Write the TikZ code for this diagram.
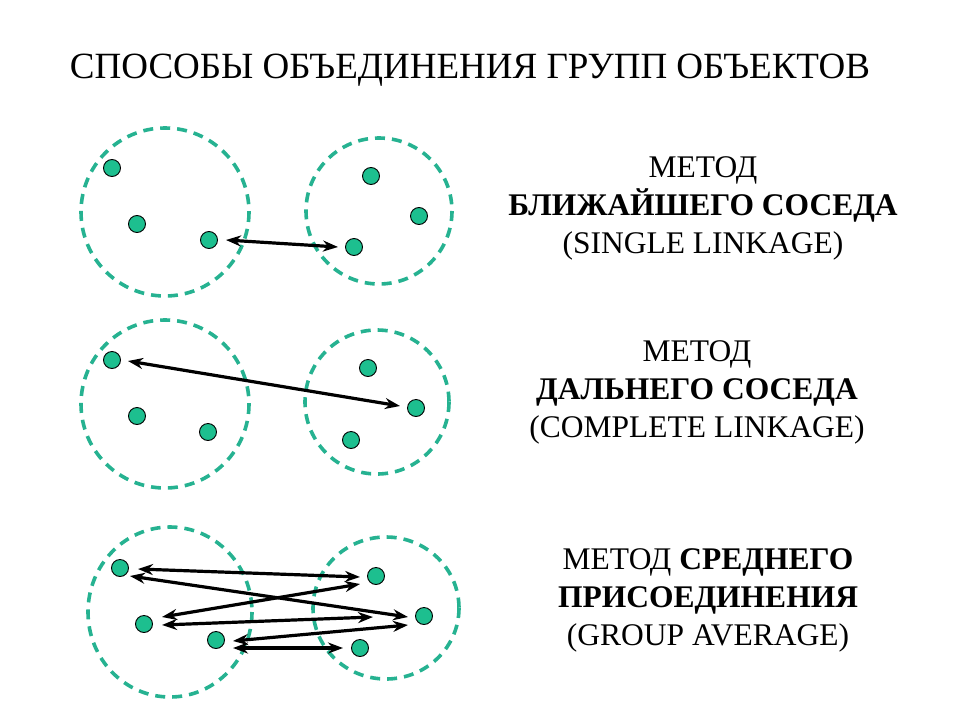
\documentclass[tikz,border=0pt]{standalone}
\usepackage{fontspec}
\setmainfont{Liberation Serif}
\usetikzlibrary{arrows.meta}
\begin{document}
\begin{tikzpicture}[x=1pt,y=-1pt,
  grp/.style={draw={rgb,255:red,38;green,178;blue,145},line width=3.6pt,dash pattern=on 10pt off 7pt},
  pt/.style={circle,draw=black,line width=0.9pt,fill={rgb,255:red,29;green,191;blue,143},minimum size=17pt,inner sep=0pt},
  lnk/.style={line width=3.2pt,{Stealth[length=15pt,width=11pt]}-{Stealth[length=15pt,width=11pt]}},
  lbl/.style={font=\fontsize{31.5}{38}\selectfont,align=center}]
\useasboundingbox (0,0) rectangle (960,720);
\node[font=\fontsize{37}{42}\selectfont] (title) at (470,70) {СПОСОБЫ ОБЪЕДИНЕНИЯ ГРУПП ОБЪЕКТОВ};
% group 1
\draw[grp] (165,212) circle (84);
\draw[grp] (379,211) circle (73);
\node[pt] (a1) at (112,168) {}; \node[pt] (a2) at (137,224) {}; \node[pt] (a3) at (209,240) {};
\node[pt] (b1) at (371,176) {}; \node[pt] (b2) at (419,216) {}; \node[pt] (b3) at (354,247) {};
\coordinate (p1) at (226,240); \coordinate (q1) at (338,247);
\draw[lnk] (p1) -- (q1);
\node[lbl] (t1) at (703,208) {МЕТОД\\\textbf{БЛИЖАЙШЕГО СОСЕДА}\\(SINGLE LINKAGE)};
% group 2
\draw[grp] (165,404) circle (84);
\draw[grp] (377,402) circle (72);
\node[pt] (c1) at (112,360) {}; \node[pt] (c2) at (137,416) {}; \node[pt] (c3) at (208,432) {};
\node[pt] (d1) at (368,368) {}; \node[pt] (d2) at (416,408) {}; \node[pt] (d3) at (351,440) {};
\coordinate (p2) at (128,361); \coordinate (q2) at (400,406);
\draw[lnk] (p2) -- (q2);
\node[lbl] (t2) at (697,392) {МЕТОД\\\textbf{ДАЛЬНЕГО СОСЕДА}\\(COMPLETE LINKAGE)};
% group 3
\draw[grp] (170,612) ellipse (82 and 85);
\draw[grp] (386,608) ellipse (73 and 71);
\node[pt] (e1) at (120,568) {}; \node[pt] (e2) at (144,624) {}; \node[pt] (e3) at (216,640) {};
\node[pt] (f1) at (376,576) {}; \node[pt] (f2) at (424,616) {}; \node[pt] (f3) at (360,648) {};
\coordinate (r1) at (138,569); \coordinate (s1) at (360,577);
\coordinate (r2) at (130,576); \coordinate (s2) at (408,617);
\coordinate (r3) at (162,617); \coordinate (s3) at (360,584);
\coordinate (r4) at (162,625); \coordinate (s4) at (373,617);
\coordinate (r5) at (233,641); \coordinate (s5) at (408,625);
\coordinate (r6) at (233,648); \coordinate (s6) at (343,648);
\foreach \i in {1,...,6} {\draw[lnk] (r\i) -- (s\i);}
\node[lbl] (t3) at (708,600) {МЕТОД \textbf{СРЕДНЕГО}\\\textbf{ПРИСОЕДИНЕНИЯ}\\(GROUP AVERAGE)};
\end{tikzpicture}
\end{document}
